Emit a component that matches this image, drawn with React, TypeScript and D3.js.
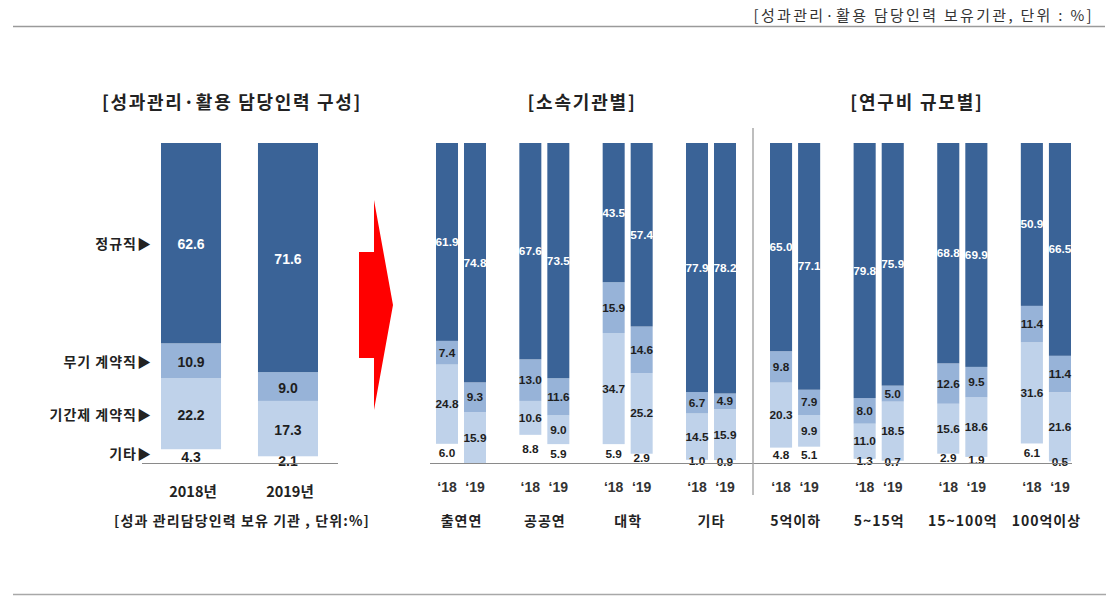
import React from "react";
import * as d3 from "d3";

// ---------- data ----------
const seriesKeys = ["기타", "기간제 계약직", "무기 계약직", "정규직"]; // bottom -> top
const seriesLabels = ["기타▶", "기간제 계약직▶", "무기 계약직▶", "정규직▶"];

const leftYears = ["2018년", "2019년"];
const leftRegular = [62.6, 71.6];
const leftIndefinite = [10.9, 9.0];
const leftFixedTerm = [22.2, 17.3];
const leftOther = [4.3, 2.1];

const yearTicks = ["‘18", "‘19"];

const orgCategories = ["출연연", "공공연", "대학", "기타"];
const orgRegular = [61.9, 74.8, 67.6, 73.5, 43.5, 57.4, 77.9, 78.2];
const orgIndefinite = [7.4, 9.3, 13.0, 11.6, 15.9, 14.6, 6.7, 4.9];
const orgFixedTerm = [24.8, 15.9, 10.6, 9.0, 34.7, 25.2, 14.5, 15.9];
const orgOther = [6.0, 0, 8.8, 5.9, 5.9, 2.9, 1.0, 0.9];

const sizeCategories = ["5억이하", "5~15억", "15~100억", "100억이상"];
const sizeRegular = [65.0, 77.1, 79.8, 75.9, 68.8, 69.9, 50.9, 66.5];
const sizeIndefinite = [9.8, 7.9, 8.0, 5.0, 12.6, 9.5, 11.4, 11.4];
const sizeFixedTerm = [20.3, 9.9, 11.0, 18.5, 15.6, 18.6, 31.6, 21.6];
const sizeOther = [4.8, 5.1, 1.3, 0.7, 2.9, 1.9, 6.1, 0.5];

// ---------- styles ----------
const colors: Record<string, string> = {
  "정규직": "#3a6397",
  "무기 계약직": "#97b3d8",
  "기간제 계약직": "#bfd2ea",
  "기타": "none",
};
const textColor = "#1e1e1e";
const KR = "'Noto Sans CJK KR', 'Noto Sans', sans-serif";
const NUM = "'Liberation Sans', Arial, sans-serif";

type Row = { id: string; [k: string]: number | string };

function buildRows(ids: string[], reg: number[], ind: number[], fix: number[], oth: number[]): Row[] {
  return ids.map((id, i) => ({
    id,
    "정규직": reg[i],
    "무기 계약직": ind[i],
    "기간제 계약직": fix[i],
    "기타": oth[i],
  }));
}

const stacker = d3
  .stack<Row>()
  .keys(seriesKeys)
  .value((d, k) => d[k] as number)
  .offset(d3.stackOffsetExpand);

const yScale = d3.scaleLinear().domain([0, 1]).range([463, 143]);

function GroupPanel({
  categories,
  reg,
  ind,
  fix,
  oth,
  x0,
  x1,
}: {
  categories: string[];
  reg: number[];
  ind: number[];
  fix: number[];
  oth: number[];
  x0: number;
  x1: number;
}) {
  const ids: string[] = [];
  categories.forEach((c) => yearTicks.forEach((y) => ids.push(c + "|" + y)));
  const rows = buildRows(ids, reg, ind, fix, oth);
  const stacked = stacker(rows);
  const outer = d3.scaleBand<string>().domain(categories).range([x0, x1]).paddingInner(0.4);
  const inner = d3.scaleBand<string>().domain(yearTicks).range([0, outer.bandwidth()]).paddingInner(0.214);
  const xOf = (id: string) => {
    const [c, y] = id.split("|");
    return (outer(c) as number) + (inner(y) as number);
  };
  const bw = inner.bandwidth();
  return (
    <g>
      {stacked.map((s) => (
        <g key={s.key}>
          {s.map((d, i) => (
            <rect
              key={i}
              x={xOf(d.data.id as string)}
              y={yScale(d[1])}
              width={bw}
              height={Math.max(0, yScale(d[0]) - yScale(d[1]))}
              fill={colors[s.key]}
            />
          ))}
        </g>
      ))}
      {stacked.map((s) => (
        <g key={"l" + s.key}>
          {s.map((d, i) => {
            const v = d.data[s.key] as number;
            if (!v) return null;
            return (
              <text
                key={i}
                x={xOf(d.data.id as string) + bw / 2}
                y={(yScale(d[0]) + yScale(d[1])) / 2}
                textAnchor="middle"
                dominantBaseline="central"
                fontFamily={NUM}
                fontWeight="bold"
                fontSize={11.8}
                fill={s.key === "정규직" ? "#ffffff" : textColor}
              >
                {v.toFixed(1)}
              </text>
            );
          })}
        </g>
      ))}
      {ids.map((id) => (
        <text
          key={"t" + id}
          x={xOf(id) + bw / 2}
          y={487}
          textAnchor="middle"
          dominantBaseline="central"
          fontFamily={NUM}
          fontWeight="bold"
          fontSize={14}
          fill="#333"
        >
          {id.split("|")[1]}
        </text>
      ))}
      {categories.map((c) => (
        <text
          key={"c" + c}
          x={(outer(c) as number) + outer.bandwidth() / 2 + 0.5}
          y={520}
          textAnchor="middle"
          dominantBaseline="central"
          fontFamily={KR}
          fontWeight="bold"
          fontSize={14}
          letterSpacing={1}
          fill="#222"
        >
          {c}
        </text>
      ))}
    </g>
  );
}

export default function App() {
  const leftRows = buildRows(leftYears, leftRegular, leftIndefinite, leftFixedTerm, leftOther);
  const leftStack = stacker(leftRows);
  const xLeft = d3.scaleBand<string>().domain(leftYears).range([161, 318]).paddingInner(0.381);
  const lbw = xLeft.bandwidth();

  return (
    <svg width={1115} height={609} style={{ position: "absolute", left: 0, top: 0, background: "#fff" }}>
      <rect x={0} y={0} width={1115} height={609} fill="#fff" />
      {/* header */}
      <text x={1094} y={14} textAnchor="end" dominantBaseline="central" fontFamily={KR} fontSize={15} letterSpacing={2.3} fill="#333">
        [성과관리·활용 담당인력 보유기관, 단위 : %]
      </text>
      <line x1={13} x2={1105} y1={26.5} y2={26.5} stroke="#9a9a9a" strokeWidth={1.5} />
      <line x1={13} x2={1106} y1={594.5} y2={594.5} stroke="#a8a8a8" strokeWidth={1.5} />

      {/* titles */}
      <text x={232} y={101} textAnchor="middle" dominantBaseline="central" fontFamily={KR} fontWeight="bold" fontSize={18} letterSpacing={1.7} fill="#222">
        [성과관리·활용 담당인력 구성]
      </text>
      <text x={582} y={101} textAnchor="middle" dominantBaseline="central" fontFamily={KR} fontWeight="bold" fontSize={18} letterSpacing={1.8} fill="#222">
        [소속기관별]
      </text>
      <text x={917} y={101} textAnchor="middle" dominantBaseline="central" fontFamily={KR} fontWeight="bold" fontSize={18} letterSpacing={1.8} fill="#222">
        [연구비 규모별]
      </text>

      {/* left panel */}
      {leftStack.map((s) => (
        <g key={s.key}>
          {s.map((d, i) => (
            <rect
              key={i}
              x={xLeft(d.data.id as string)}
              y={yScale(d[1])}
              width={lbw}
              height={yScale(d[0]) - yScale(d[1])}
              fill={colors[s.key]}
            />
          ))}
          {s.map((d, i) => (
            <text
              key={"v" + i}
              x={(xLeft(d.data.id as string) as number) + lbw / 2}
              y={(yScale(d[0]) + yScale(d[1])) / 2 + 1}
              textAnchor="middle"
              dominantBaseline="central"
              fontFamily={NUM}
              fontWeight="bold"
              fontSize={14}
              fill={s.key === "정규직" ? "#ffffff" : textColor}
            >
              {(d.data[s.key] as number).toFixed(1)}
            </text>
          ))}
        </g>
      ))}
      {leftStack.map((s, k) => {
        const d = s[0];
        return (
          <text
            key={"sl" + s.key}
            x={152}
            y={(yScale(d[0]) + yScale(d[1])) / 2 - (k === 0 ? 3 : 0)}
            textAnchor="end"
            dominantBaseline="central"
            fontFamily={KR}
            fontWeight="bold"
            fontSize={14}
            letterSpacing={1}
            fill="#222"
          >
            {seriesLabels[k]}
          </text>
        );
      })}
      {leftYears.map((y) => (
        <text
          key={y}
          x={(xLeft(y) as number) + lbw / 2 + 2}
          y={490}
          textAnchor="middle"
          dominantBaseline="central"
          fontFamily={KR}
          fontWeight="bold"
          fontSize={14.5}
          fill="#222"
        >
          {y}
        </text>
      ))}
      <text x={242} y={520} textAnchor="middle" dominantBaseline="central" fontFamily={KR} fontWeight="bold" fontSize={14} letterSpacing={1.1} fill="#222">
        [성과 관리담당인력 보유 기관 , 단위:%]
      </text>
      <line x1={142} x2={338} y1={463.5} y2={463.5} stroke="#8a8a8a" strokeWidth={1} />

      {/* arrow */}
      <polygon points="359,252 374,252 374,200 393,305 374,410 374,358 359,358" fill="#ff0000" />

      {/* middle + right panels */}
      <GroupPanel categories={orgCategories} reg={orgRegular} ind={orgIndefinite} fix={orgFixedTerm} oth={orgOther} x0={436} x1={736} />
      <GroupPanel categories={sizeCategories} reg={sizeRegular} ind={sizeIndefinite} fix={sizeFixedTerm} oth={sizeOther} x0={770} x1={1071} />
      <line x1={430} x2={1072} y1={463.5} y2={463.5} stroke="#8a8a8a" strokeWidth={1} />
      <line x1={753} x2={753} y1={128} y2={495} stroke="#a8a8a8" strokeWidth={1.5} />
    </svg>
  );
}
